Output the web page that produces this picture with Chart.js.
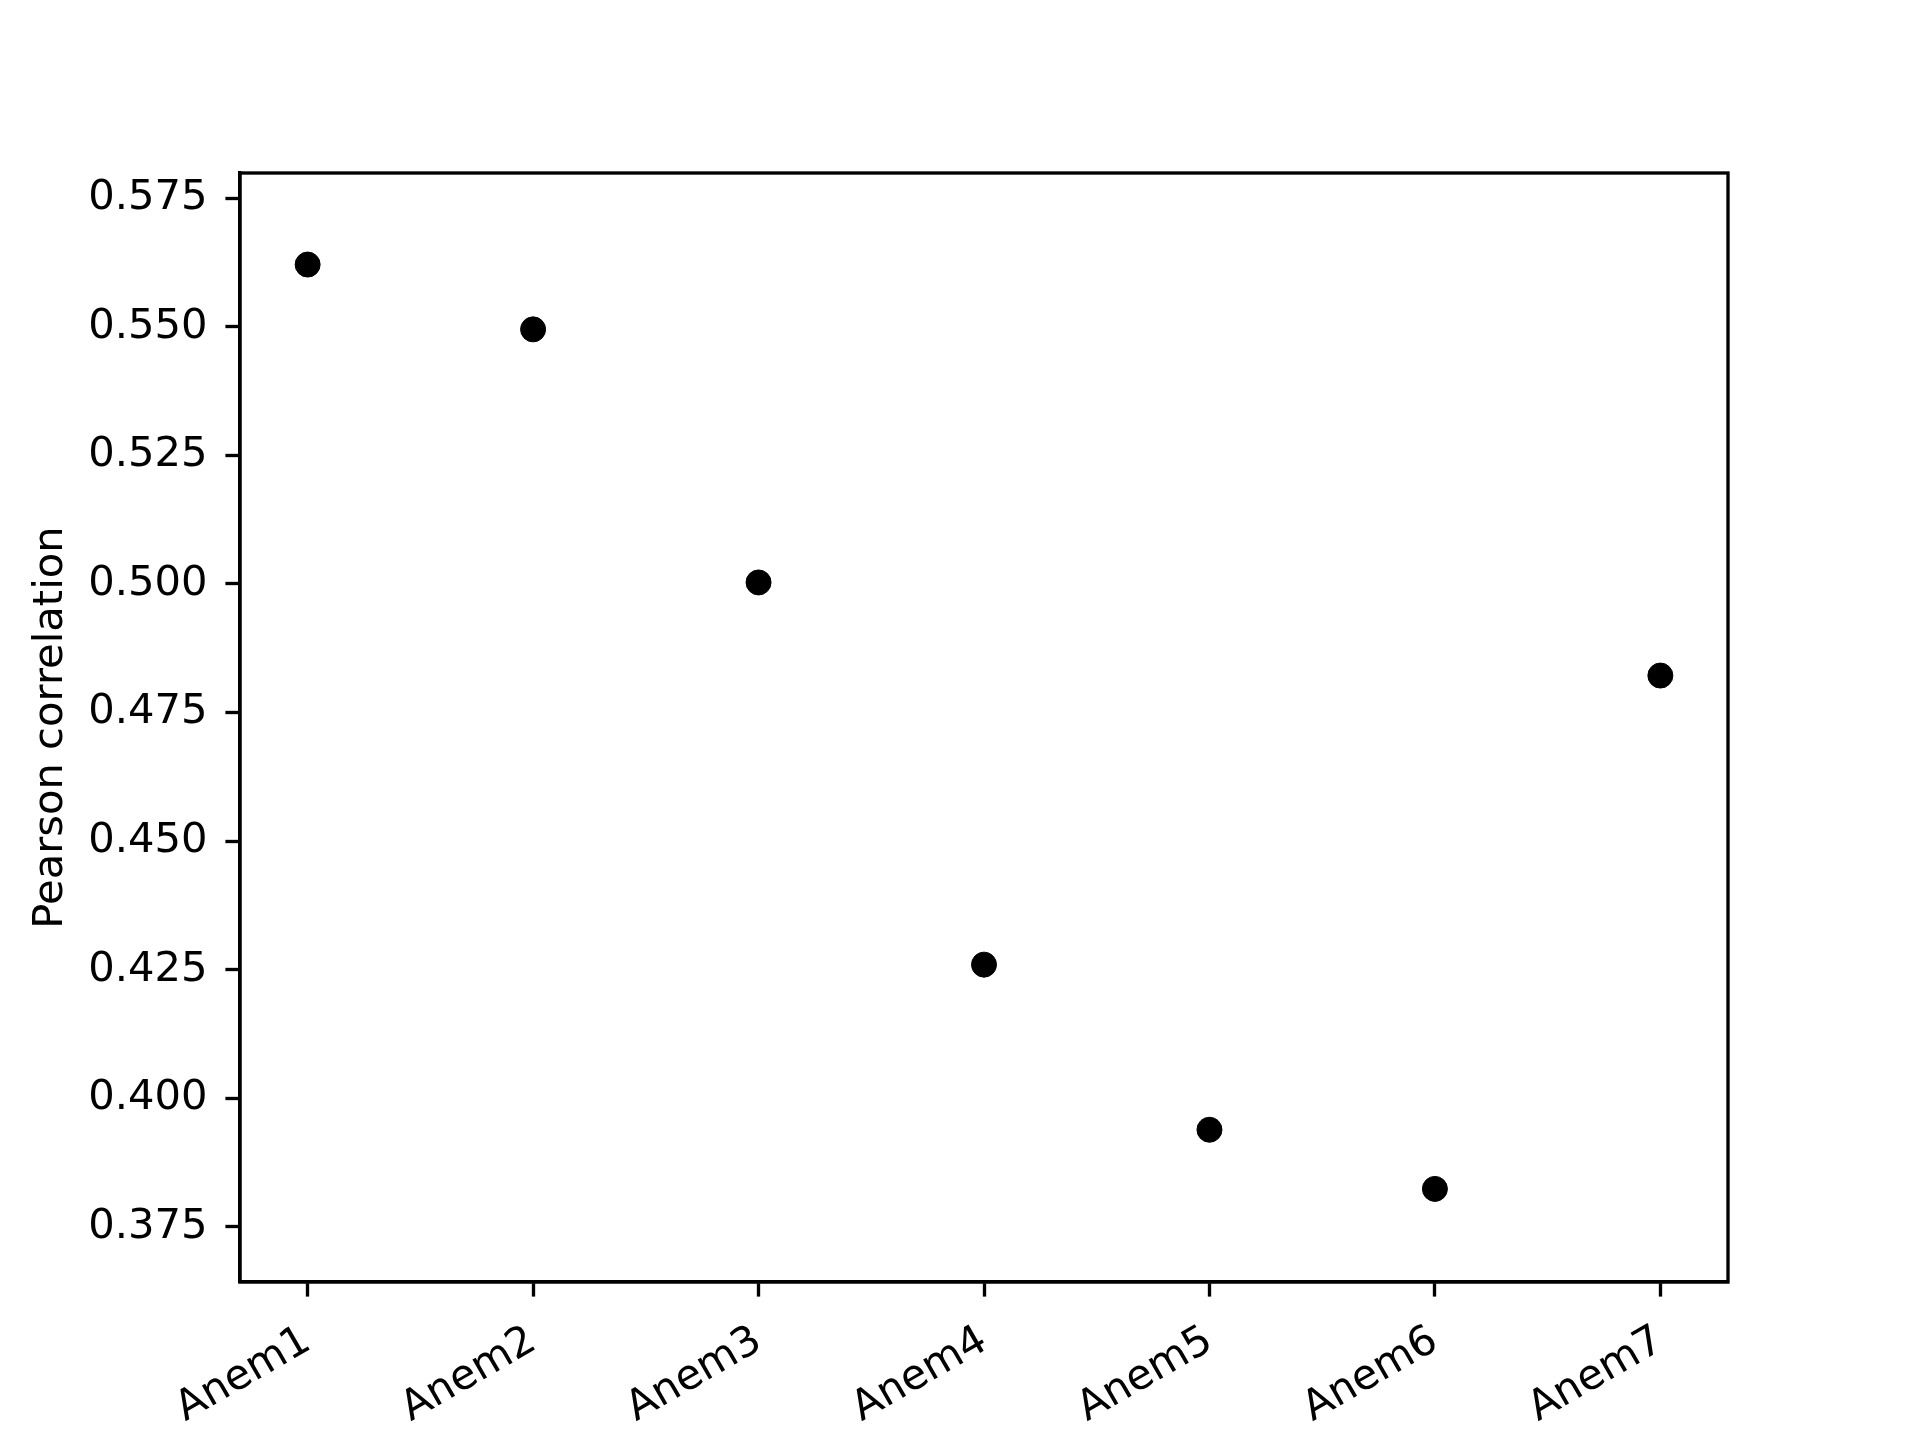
<!DOCTYPE html>
<html>
<head>
<meta charset="utf-8">
<script src="https://cdn.jsdelivr.net/npm/chart.js@4/dist/chart.umd.min.js"></script>
<style>
  body { margin: 0; background: #fff; }
  #c { display: block; }
</style>
</head>
<body>
<canvas id="c" width="1920" height="1440"></canvas>
<script>
// sensors and their correlation values
const categories = ["Anem1", "Anem2", "Anem3", "Anem4", "Anem5", "Anem6", "Anem7"];
const pearson = [0.5621, 0.5495, 0.5003, 0.4260, 0.3939, 0.3824, 0.4822];
const yTicks = [0.375, 0.400, 0.425, 0.450, 0.475, 0.500, 0.525, 0.550, 0.575];

const FONT = "'DejaVu Sans', sans-serif";
const FS = 41.67;
const LW = 3.33;

// box around the plot area, like a matplotlib axes frame
const frame = {
  id: "frame",
  afterDraw(chart) {
    const a = chart.chartArea;
    const ctx = chart.ctx;
    ctx.save();
    ctx.strokeStyle = "#000";
    ctx.lineWidth = LW;
    ctx.strokeRect(a.left, a.top, a.right - a.left, a.bottom - a.top);
    ctx.restore();
  }
};

const points = categories.map((c, i) => ({ x: i, y: pearson[i] }));

new Chart(document.getElementById("c").getContext("2d"), {
  type: "scatter",
  data: {
    datasets: [{
      data: points,
      backgroundColor: "#000",
      borderColor: "#000",
      pointRadius: 12.5,
      pointHoverRadius: 12.5,
      borderWidth: 1
    }]
  },
  options: {
    responsive: false,
    animation: false,
    devicePixelRatio: 1,
    layout: { padding: { top: 173, right: 192, left: 0, bottom: 0 } },
    plugins: { legend: { display: false }, tooltip: { enabled: false } },
    scales: {
      x: {
        type: "linear",
        min: -0.3,
        max: 6.3,
        afterFit(s) { s.height = 158; },
        afterBuildTicks(s) { s.ticks = categories.map((c, i) => ({ value: i })); },
        grid: { drawOnChartArea: false, drawTicks: true, tickLength: 14.6, tickWidth: LW, tickColor: "#000" },
        border: { display: true, color: "#000", width: LW },
        ticks: {
          autoSkip: false,
          minRotation: 30,
          maxRotation: 30,
          padding: 20,
          color: "#000",
          font: { family: FONT, size: FS },
          callback: (v) => categories[v]
        }
      },
      y: {
        min: 0.3643,
        max: 0.5799,
        afterFit(s) { s.width = 240; },
        afterBuildTicks(s) { s.ticks = yTicks.map(v => ({ value: v })); },
        grid: { drawOnChartArea: false, drawTicks: true, tickLength: 14.6, tickWidth: LW, tickColor: "#000" },
        border: { display: true, color: "#000", width: LW },
        title: {
          display: true,
          text: "Pearson correlation",
          color: "#000",
          font: { family: FONT, size: FS },
          padding: { top: 26, bottom: 0 }
        },
        ticks: {
          padding: 18,
          color: "#000",
          font: { family: FONT, size: FS },
          callback: (v) => v.toFixed(3)
        }
      }
    }
  },
  plugins: [frame]
});
</script>
</body>
</html>
